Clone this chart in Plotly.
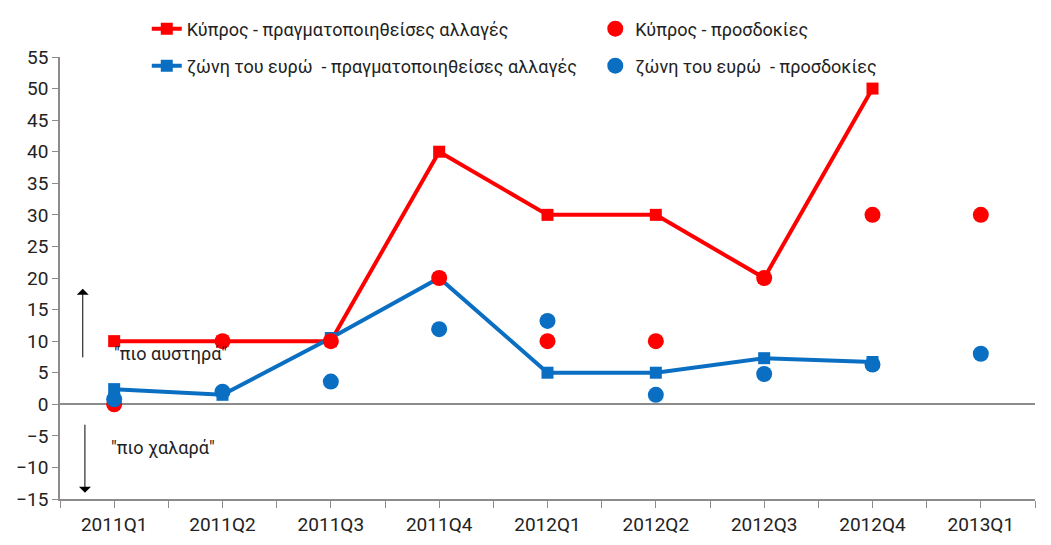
import plotly.graph_objects as go

categories = ["2011Q1", "2011Q2", "2011Q3", "2011Q4", "2012Q1", "2012Q2", "2012Q3", "2012Q4", "2013Q1"]
cy_actual = [10, 10, 10, 40, 30, 30, 20, 50, None]
ea_actual = [2.4, 1.5, 10.5, 20, 5, 5, 7.3, 6.7, None]
cy_expect = [0, 10, 10, 20, 10, 10, 20, 30, 30]
ea_expect = [0.8, 2, 3.6, 11.9, 13.2, 1.5, 4.8, 6.3, 8.0]
y_ticks = list(range(-15, 60, 5))

names = [
    "Κύπρος - πραγματοποιηθείσες αλλαγές",
    "ζώνη του ευρώ  - πραγματοποιηθείσες αλλαγές",
    "Κύπρος - προσδοκίες",
    "ζώνη του ευρώ  - προσδοκίες",
]

RED = "#FF0000"
BLUE = "#0A6FC2"
FONT = "Roboto, Noto Sans, sans-serif"

xs = list(range(len(categories)))

fig = go.Figure()
fig.add_trace(go.Scatter(x=xs, y=cy_actual, name=names[0], mode="lines+markers",
                         line=dict(color=RED, width=4),
                         marker=dict(symbol="square", size=12, color=RED),
                         legend="legend", showlegend=True))
fig.add_trace(go.Scatter(x=xs, y=ea_actual, name=names[1], mode="lines+markers",
                         line=dict(color=BLUE, width=4),
                         marker=dict(symbol="square", size=12, color=BLUE),
                         legend="legend2", showlegend=True))
fig.add_trace(go.Scatter(x=xs, y=cy_expect, name=names[2], mode="markers",
                         marker=dict(symbol="circle", size=16, color=RED),
                         legend="legend3", showlegend=True))
fig.add_trace(go.Scatter(x=xs, y=ea_expect, name=names[3], mode="markers",
                         marker=dict(symbol="circle", size=16, color=BLUE),
                         legend="legend4", showlegend=True))

leg_common = dict(font=dict(family=FONT, size=18, color="#222"), bgcolor="rgba(0,0,0,0)",
                  xanchor="left", yanchor="middle", yref="container")
fig.update_layout(
    showlegend=True,
    legend=dict(x=0.089, y=0.9615, **leg_common),
    legend2=dict(x=0.089, y=0.8936, **leg_common),
    legend3=dict(x=0.549, y=0.9615, **leg_common),
    legend4=dict(x=0.549, y=0.8936, **leg_common),
)

# annotations
ann_font = dict(family=FONT, size=18, color="#222")
fig.add_annotation(x=0.52, y=8, xref="x", yref="y", text="\"πιο αυστηρά\"", showarrow=False, font=ann_font)
fig.add_annotation(x=0.45, y=-6.9, xref="x", yref="y", text="\"πιο χαλαρά\"", showarrow=False, font=ann_font)
fig.add_annotation(x=-0.29, y=18.3, ax=-0.29, ay=7.2, xref="x", yref="y", axref="x", ayref="y",
                   text="", showarrow=True, arrowhead=1, arrowsize=2, arrowwidth=1, arrowcolor="black")
fig.add_annotation(x=-0.27, y=-14, ax=-0.27, ay=-3, xref="x", yref="y", axref="x", ayref="y",
                   text="", showarrow=True, arrowhead=1, arrowsize=2, arrowwidth=1, arrowcolor="black")

fig.update_xaxes(range=[-0.5, 8.5], tickmode="array", tickvals=xs, ticktext=categories,
                 showgrid=False, zeroline=False, showline=True, linecolor="#8c8c8c", linewidth=1.5,
                 ticks="outside", ticklen=7, tickcolor="#8c8c8c",
                 minor=dict(tickmode="array", tickvals=[i - 0.5 for i in xs] + [8.5], ticks="outside",
                            ticklen=7, tickcolor="#8c8c8c", showgrid=False),
                 tickfont=dict(family=FONT, size=19, color="#222"))
fig.update_yaxes(range=[-15, 55], tickmode="array", tickvals=y_ticks,
                 showgrid=False, zeroline=True, zerolinecolor="#8c8c8c", zerolinewidth=1.5,
                 showline=True, linecolor="#8c8c8c", linewidth=1.5,
                 ticks="outside", ticklen=6, tickcolor="#8c8c8c",
                 tickfont=dict(family=FONT, size=19, color="#222"))

fig.update_layout(width=1051, height=545, margin=dict(l=52, r=24, t=49, b=54, autoexpand=False),
                  plot_bgcolor="white", paper_bgcolor="white")

fig.write_html("out.html")
